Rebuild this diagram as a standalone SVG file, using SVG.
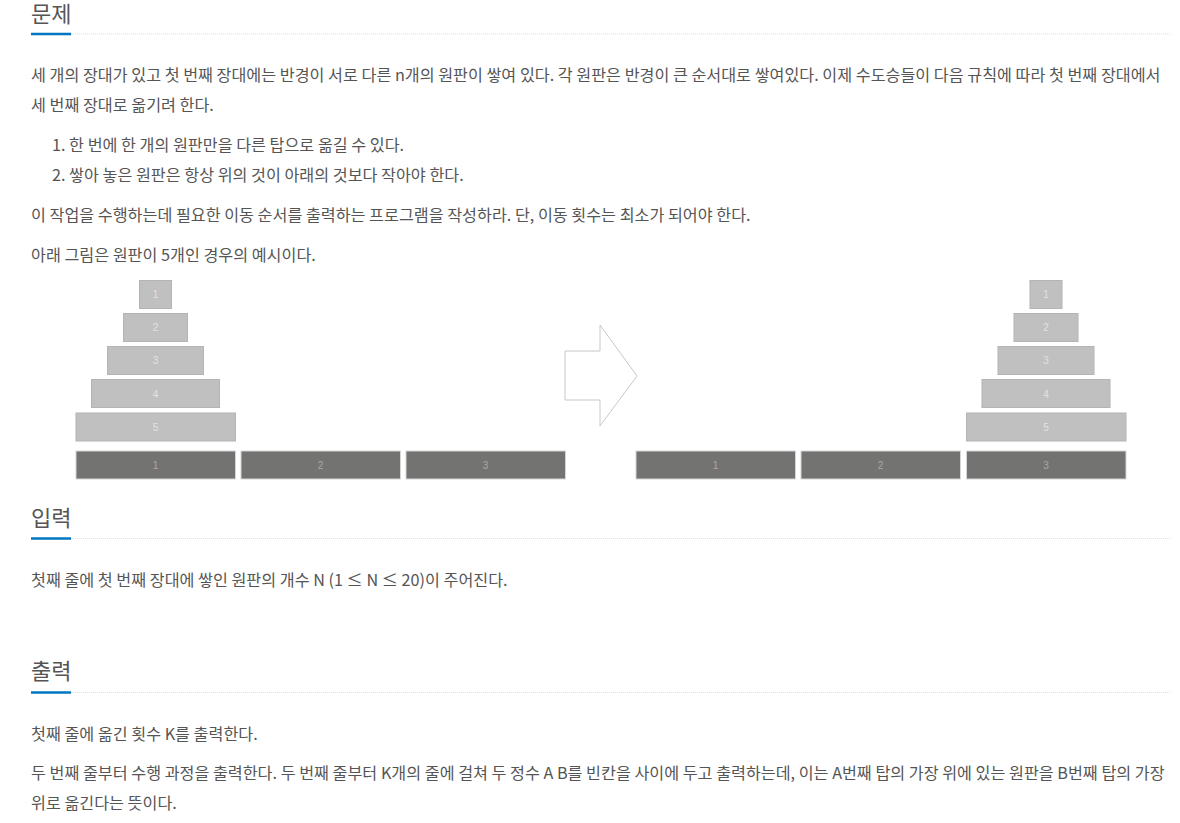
<svg xmlns="http://www.w3.org/2000/svg" width="1180" height="823" viewBox="0 0 1180 823">
<style>
  .h { font-family: "Noto Sans CJK KR", "Noto Sans", sans-serif; font-size: 22px; fill: #555; }
  .t { font-family: "Noto Sans CJK KR", "Noto Sans", sans-serif; font-size: 16.2px; fill: #555; }
  .blue { stroke: #0076c0; stroke-width: 2.5; }
  .dot { stroke: #dddddd; stroke-width: 1; stroke-dasharray: 1 1; }
  .disc { fill: #c0c0c0; stroke: #b4b4b4; stroke-width: 1; }
  .base { fill: #737471; stroke: #d6d6d6; stroke-width: 1; }
  .dl { font-family: "Liberation Sans", Arial, sans-serif; font-size: 10px; fill: #e2e2e2; text-anchor: middle; }
  .bl { font-family: "Liberation Sans", Arial, sans-serif; font-size: 10px; fill: #a8a8a8; text-anchor: middle; }
</style>
<rect width="1180" height="823" fill="#fff"/>

<g id="heading-problem">
  <text class="h" x="31" y="22">문제</text>
  <line class="dot" x1="71" y1="34" x2="1171" y2="34"/>
  <line class="blue" x1="31" y1="34" x2="71" y2="34"/>
</g>

<g id="problem-text">
  <text class="t" x="31" y="81">세 개의 장대가 있고 첫 번째 장대에는 반경이 서로 다른 n개의 원판이 쌓여 있다. 각 원판은 반경이 큰 순서대로 쌓여있다. 이제 수도승들이 다음 규칙에 따라 첫 번째 장대에서</text>
  <text class="t" x="31" y="110.5">세 번째 장대로 옮기려 한다.</text>
  <text class="t" x="52" y="151">1. 한 번에 한 개의 원판만을 다른 탑으로 옮길 수 있다.</text>
  <text class="t" x="52" y="181">2. 쌓아 놓은 원판은 항상 위의 것이 아래의 것보다 작아야 한다.</text>
  <text class="t" x="31" y="221">이 작업을 수행하는데 필요한 이동 순서를 출력하는 프로그램을 작성하라. 단, 이동 횟수는 최소가 되어야 한다.</text>
  <text class="t" x="31" y="261">아래 그림은 원판이 5개인 경우의 예시이다.</text>
</g>

<g id="left-tower">
  <g id="left-disc-1"><rect class="disc" x="139.5" y="280.5" width="32" height="28"/><text class="dl" x="155.5" y="298">1</text></g>
  <g id="left-disc-2"><rect class="disc" x="123.5" y="313.5" width="64" height="28"/><text class="dl" x="155.5" y="331">2</text></g>
  <g id="left-disc-3"><rect class="disc" x="107.5" y="346.5" width="96" height="28"/><text class="dl" x="155.5" y="364">3</text></g>
  <g id="left-disc-4"><rect class="disc" x="91.5" y="379.5" width="128" height="28"/><text class="dl" x="155.5" y="397.5">4</text></g>
  <g id="left-disc-5"><rect class="disc" x="76" y="413" width="159.5" height="28"/><text class="dl" x="155.5" y="430.5">5</text></g>
</g>
<g id="left-bases">
  <g id="left-base-1"><rect class="base" x="76" y="451" width="159.5" height="28"/><text class="bl" x="155.5" y="468.5">1</text></g>
  <g id="left-base-2"><rect class="base" x="241" y="451" width="159.5" height="28"/><text class="bl" x="320.5" y="468.5">2</text></g>
  <g id="left-base-3"><rect class="base" x="406" y="451" width="159.5" height="28"/><text class="bl" x="485.5" y="468.5">3</text></g>
</g>

<g id="arrow">
  <polygon points="565,351 600,351 600,325 637,376 600,426 600,400 565,400" fill="#fff" stroke="#c8c8c8" stroke-width="1"/>
</g>

<g id="right-tower">
  <g id="right-disc-1"><rect class="disc" x="1030" y="280.5" width="32" height="28"/><text class="dl" x="1046" y="298">1</text></g>
  <g id="right-disc-2"><rect class="disc" x="1014" y="313.5" width="64" height="28"/><text class="dl" x="1046" y="331">2</text></g>
  <g id="right-disc-3"><rect class="disc" x="998" y="346.5" width="96" height="28"/><text class="dl" x="1046" y="364">3</text></g>
  <g id="right-disc-4"><rect class="disc" x="982" y="379.5" width="128" height="28"/><text class="dl" x="1046" y="397.5">4</text></g>
  <g id="right-disc-5"><rect class="disc" x="966.5" y="413" width="159.5" height="28"/><text class="dl" x="1046" y="430.5">5</text></g>
</g>
<g id="right-bases">
  <g id="right-base-1"><rect class="base" x="636" y="451" width="159.5" height="28"/><text class="bl" x="715.5" y="468.5">1</text></g>
  <g id="right-base-2"><rect class="base" x="801" y="451" width="159.5" height="28"/><text class="bl" x="880.5" y="468.5">2</text></g>
  <g id="right-base-3"><rect class="base" x="966.5" y="451" width="159.5" height="28"/><text class="bl" x="1046" y="468.5">3</text></g>
</g>

<g id="heading-input">
  <text class="h" x="31" y="526">입력</text>
  <line class="dot" x1="71" y1="538.5" x2="1171" y2="538.5"/>
  <line class="blue" x1="31" y1="538.5" x2="71" y2="538.5"/>
</g>
<g id="input-text">
  <text class="t" x="31" y="585.5">첫째 줄에 첫 번째 장대에 쌓인 원판의 개수 N (1 ≤ N ≤ 20)이 주어진다.</text>
</g>

<g id="heading-output">
  <text class="h" x="31" y="679">출력</text>
  <line class="dot" x1="71" y1="692.5" x2="1171" y2="692.5"/>
  <line class="blue" x1="31" y1="692.5" x2="71" y2="692.5"/>
</g>
<g id="output-text">
  <text class="t" x="31" y="739.5">첫째 줄에 옮긴 횟수 K를 출력한다.</text>
  <text class="t" x="31" y="779">두 번째 줄부터 수행 과정을 출력한다. 두 번째 줄부터 K개의 줄에 걸쳐 두 정수 A B를 빈칸을 사이에 두고 출력하는데, 이는 A번째 탑의 가장 위에 있는 원판을 B번째 탑의 가장</text>
  <text class="t" x="31" y="808.5">위로 옮긴다는 뜻이다.</text>
</g>
</svg>
